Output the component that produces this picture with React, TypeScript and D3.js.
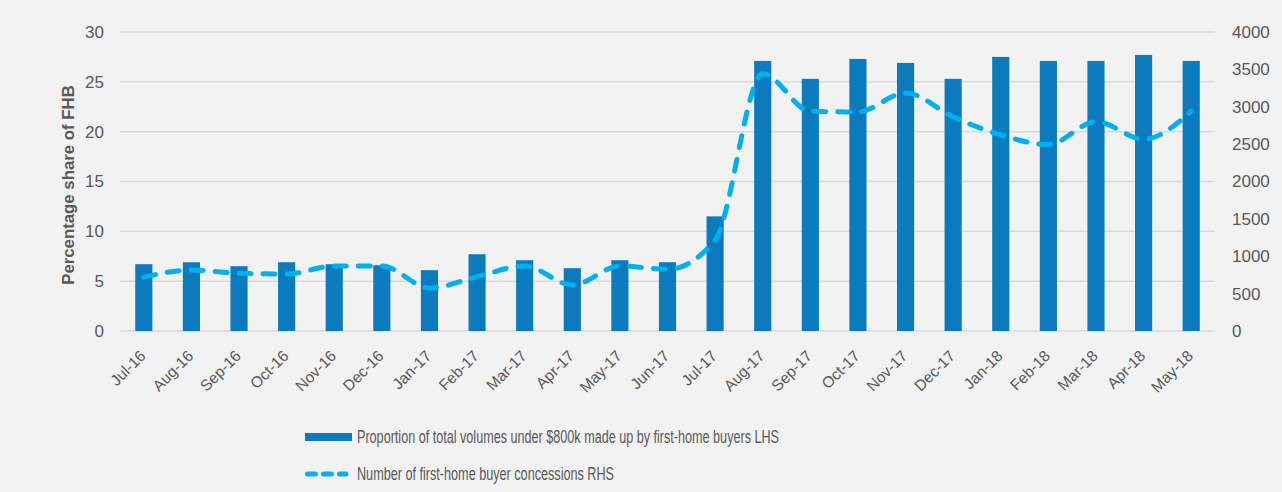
import React from "react";
import * as d3 from "d3";

const months = [
  "Jul-16", "Aug-16", "Sep-16", "Oct-16", "Nov-16", "Dec-16", "Jan-17", "Feb-17",
  "Mar-17", "Apr-17", "May-17", "Jun-17", "Jul-17", "Aug-17", "Sep-17", "Oct-17",
  "Nov-17", "Dec-17", "Jan-18", "Feb-18", "Mar-18", "Apr-18", "May-18",
];
const shareFHB = [
  6.7, 6.9, 6.5, 6.9, 6.7, 6.6, 6.1, 7.7, 7.1, 6.3, 7.1, 6.9, 11.5, 27.1, 25.3, 27.3,
  26.9, 25.3, 27.5, 27.1, 27.1, 27.7, 27.1,
];
const concessions = [
  720, 816, 772, 762, 870, 870, 575, 727, 870, 615, 870, 825, 1217, 3440, 2940, 2930,
  3185, 2865, 2622, 2495, 2800, 2565, 2940,
];
const leftTicks = [0, 5, 10, 15, 20, 25, 30];
const rightTicks = [0, 500, 1000, 1500, 2000, 2500, 3000, 3500, 4000];

const legendBar = "Proportion of total volumes under $800k made up by first-home buyers LHS";
const legendLine = "Number of first-home buyer concessions RHS";
const yTitle = "Percentage share of FHB";

const W = 1282;
const H = 492;
const plotL = 120;
const plotR = 1215;
const plotT = 32;
const plotB = 331;
const font = "'Liberation Sans', Arial, sans-serif";
const narrowFont = "'Liberation Sans Narrow', 'Liberation Sans', Arial, sans-serif";
const textCol = "#595959";

export default function App() {
  const x = d3.scaleBand<string>().domain(months).range([plotL, plotR]).paddingInner(0.64).paddingOuter(0.32);
  const yL = d3.scaleLinear().domain([0, 30]).range([plotB, plotT]);
  const yR = d3.scaleLinear().domain([0, 4000]).range([plotB, plotT]);
  const cx = (m: string) => (x(m) as number) + x.bandwidth() / 2;

  const line = d3
    .line<number>()
    .x((_, i) => cx(months[i]))
    .y((d) => yR(d))
    .curve(d3.curveMonotoneX);

  return (
    <svg
      width={W}
      height={H}
      style={{ position: "absolute", left: 0, top: 0, background: "#f2f2f2" }}
      fontFamily={font}
    >
      <rect x={0} y={0} width={W} height={H} fill="#f2f2f2" />
      {leftTicks.map((t) => (
        <g key={t}>
          <line x1={plotL} x2={plotR} y1={yL(t)} y2={yL(t)} stroke="#d9d9d9" strokeWidth={1.5} />
          <text x={104} y={yL(t)} dy="0.35em" textAnchor="end" fontSize={17} fill={textCol}>
            {t}
          </text>
        </g>
      ))}
      {rightTicks.map((t) => (
        <text key={t} x={1232} y={yR(t)} dy="0.35em" textAnchor="start" fontSize={17} fill={textCol}>
          {t}
        </text>
      ))}
      <text
        transform={`translate(68, 185) rotate(-90)`}
        textAnchor="middle"
        dy="0.35em"
        fontSize={16.8}
        fontWeight="bold"
        fill={textCol}
      >
        {yTitle}
      </text>
      {months.map((m, i) => (
        <rect
          key={m}
          x={x(m)}
          y={yL(shareFHB[i])}
          width={x.bandwidth()}
          height={plotB - yL(shareFHB[i])}
          fill="#0b7bbd"
        />
      ))}
      <path
        d={line(concessions) || ""}
        fill="none"
        stroke="#00b0f0"
        strokeWidth={5}
        strokeDasharray="12 12"
        strokeLinecap="round"
      />
      {months.map((m) => (
        <text
          key={m}
          transform={`translate(${cx(m) - 1}, 353) rotate(-45)`}
          textAnchor="end"
          dy="0.35em"
          fontSize={15.5}
          fill={textCol}
        >
          {m}
        </text>
      ))}
      <rect x={305} y={433} width={47} height={8} fill="#0b7bbd" />
      <text
        x={357}
        y={437}
        dy="0.35em"
        fontSize={17.5}
        fontFamily={narrowFont}
        fill={textCol}
        textLength={422}
        lengthAdjust="spacingAndGlyphs"
      >
        {legendBar}
      </text>
      <line
        x1={307.5}
        x2={346}
        y1={474}
        y2={474}
        stroke="#00b0f0"
        strokeWidth={5}
        strokeDasharray="8 8"
        strokeLinecap="round"
      />
      <text
        x={357}
        y={474}
        dy="0.35em"
        fontSize={17.5}
        fontFamily={narrowFont}
        fill={textCol}
        textLength={257}
        lengthAdjust="spacingAndGlyphs"
      >
        {legendLine}
      </text>
    </svg>
  );
}
